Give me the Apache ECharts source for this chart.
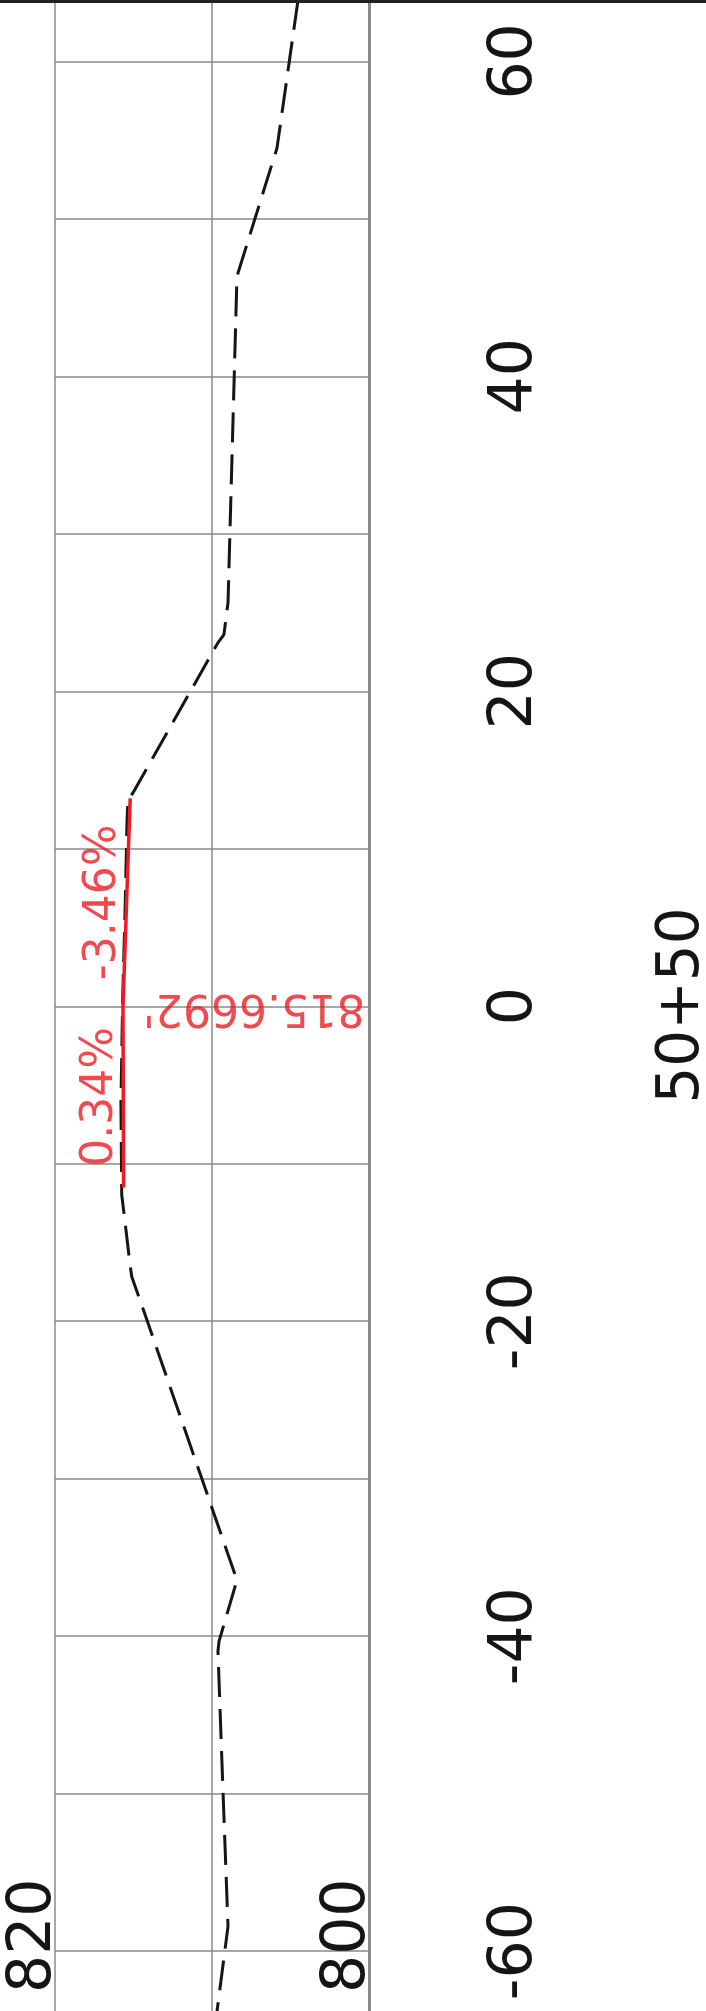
<!DOCTYPE html>
<html>
<head>
<meta charset="utf-8">
<title>Profile 50+50</title>
<script src="https://cdn.jsdelivr.net/npm/echarts@6/dist/echarts.min.js"></script>
<style>
  html, body { margin: 0; padding: 0; background: #fff; }
  #chart { width: 706px; height: 2011px; }
</style>
</head>
<body>
<div id="chart"></div>
<script>
// existing ground: offset from station (ft) / elevation (ft)
const groundStations = [63.9, 54.5, 46.35, 25.64, 23.6, 23.09, 13.56, 13.12, 11.85, 6.77, 0.41, -6.1, -11.97, -13.69, -16.42, -17.17, -18.96, -36.44, -40.31, -40.95, -49.84, -58.42, -63.82];
const groundElevations = [804.52, 805.86, 808.41, 808.98, 809.24, 809.62, 815.03, 815.35, 815.41, 815.52, 815.69, 815.8, 815.75, 815.54, 815.22, 815.11, 814.48, 808.41, 809.55, 809.62, 809.3, 808.98, 809.68];

// proposed grade line through the PVI
const gradeStations = [-11.5, 0, 13.2];
const gradeElevations = [815.63, 815.6692, 815.21];
const gradeTexts = ['0.34%', '-3.46%'];

const pviStation = 0;
const pviElevation = 815.6692;

// axes
const stationMin = -63.8;
const stationMax = 63.9;
const stationLabels = [-60, -40, -20, 0, 20, 40, 60];
const elevationMin = 800;
const elevationMax = 820;
const elevationLabels = [800, 820];
const sectionName = '50+50';

const font = 'DejaVu Sans';
const gridColor = '#8a8a8a';
const ink = '#151515';
const red = '#ed1c24';

const chart = echarts.init(document.getElementById('chart'));

// label positions: midpoint of each tangent
const gradeLabelData = gradeTexts.map((t, i) => [
  (gradeElevations[i] + gradeElevations[i + 1]) / 2,
  (gradeStations[i] + gradeStations[i + 1]) / 2
]);

chart.setOption({
  animation: false,
  grid: { left: 55, right: 337, top: 0, bottom: 0, containLabel: false, outerBoundsMode: 'none' },
  graphic: [{
    type: 'rect', left: 0, top: 0, z: 100,
    shape: { width: 706, height: 3 },
    style: { fill: '#222' }
  }],
  xAxis: {
    type: 'value',
    min: elevationMin,
    max: elevationMax,
    interval: 10,
    inverse: true,
    position: 'bottom',
    axisLine: { show: false, onZero: false },
    axisTick: { show: false },
    splitLine: { show: true, lineStyle: { color: gridColor, width: 1.5 } },
    axisLabel: {
      inside: true,
      rotate: 90,
      margin: 18,
      verticalAlign: 'bottom',
      lineHeight: 42,
      fontFamily: font,
      fontSize: 60,
      color: ink,
      formatter: v => elevationLabels.includes(v) ? String(v) : ''
    }
  },
  yAxis: {
    type: 'value',
    min: stationMin,
    max: stationMax,
    splitNumber: 13,
    position: 'right',
    axisLine: { show: true, onZero: false, lineStyle: { color: gridColor, width: 3 } },
    axisTick: { show: false },
    splitLine: {
      show: true, showMinLine: false, showMaxLine: false,
      lineStyle: { color: gridColor, width: 1.5 }
    },
    axisLabel: {
      rotate: 90,
      margin: 116,
      fontFamily: font,
      fontSize: 60,
      color: ink,
      formatter: v => stationLabels.includes(v) ? String(v) : ''
    },
    name: sectionName,
    nameLocation: 'middle',
    nameRotate: 90,
    nameGap: 285,
    nameTextStyle: { fontFamily: font, fontSize: 58, color: ink }
  },
  series: [
    {
      name: 'ground',
      type: 'line',
      symbol: 'none',
      silent: true,
      data: groundStations.map((s, i) => [groundElevations[i], s]),
      lineStyle: { color: ink, width: 3, type: [30, 12] }
    },
    {
      name: 'grade',
      type: 'line',
      symbol: 'none',
      silent: true,
      data: gradeStations.map((s, i) => [gradeElevations[i], s]),
      lineStyle: { color: red, width: 3.5 }
    },
    {
      name: 'grades',
      type: 'scatter',
      symbolSize: 0.1,
      silent: true,
      itemStyle: { color: 'transparent' },
      data: gradeLabelData,
      label: {
        show: true,
        position: 'inside',
        rotate: 90,
        align: 'center',
        verticalAlign: 'bottom',
        lineHeight: 30,
        offset: [0, -8],
        fontFamily: font,
        fontSize: 44,
        color: red,
        formatter: p => gradeTexts[p.dataIndex]
      }
    },
    {
      name: 'pvi',
      type: 'scatter',
      symbolSize: 0.1,
      silent: true,
      itemStyle: { color: 'transparent' },
      data: [[elevationMin, pviStation]],
      label: {
        show: true,
        position: 'inside',
        rotate: 180,
        align: 'left',
        verticalAlign: 'middle',
        offset: [4, 0],
        fontFamily: font,
        fontSize: 44,
        color: red,
        formatter: () => pviElevation.toFixed(4) + "'"
      }
    }
  ]
});
</script>
</body>
</html>
